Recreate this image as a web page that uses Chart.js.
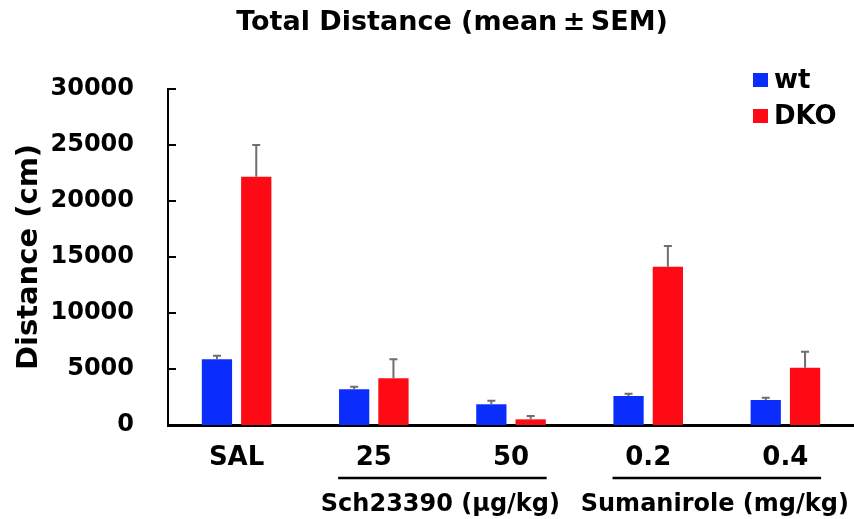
<!DOCTYPE html>
<html>
<head>
<meta charset="utf-8">
<script src="https://cdn.jsdelivr.net/npm/chart.js@4.4.0/dist/chart.umd.min.js"></script>
<style>
  html, body { margin: 0; padding: 0; background: #ffffff; }
  #wrap { width: 854px; height: 519px; position: relative; }
</style>
</head>
<body>
<div id="wrap"><canvas id="c"></canvas></div>
<script>
// ---- data ----
const categories = ['SAL', '25', '50', '0.2', '0.4'];
const seriesNames = ['wt', 'DKO'];
const wtValues = [5870, 3190, 1850, 2590, 2230];
const wtSem = [320, 230, 320, 210, 210];
const dkoValues = [22170, 4170, 505, 14130, 5120];
const dkoSem = [2830, 1700, 300, 1850, 1420];
const yTicks = [0, 5000, 10000, 15000, 20000, 25000, 30000];
const groupLabels = ['Sch23390 (μg/kg)', 'Sumanirole (mg/kg)'];
const groupSpans = [[1, 2], [3, 4]];
const chartTitle = 'Total Distance (mean\u2009±\u2009SEM)';
const yTitle = 'Distance (cm)';

const FONT = '"DejaVu Sans", "Liberation Sans", sans-serif';
const BLUE = '#0b2dfb';
const RED = '#fe0a14';

const semBySeries = [wtSem, dkoSem];

const errorBars = {
  id: 'errorBars',
  afterDatasetsDraw(chart) {
    const ctx = chart.ctx;
    const y = chart.scales.y;
    ctx.save();
    ctx.strokeStyle = '#6e6e6e';
    ctx.lineWidth = 2;
    chart.data.datasets.forEach((ds, i) => {
      const meta = chart.getDatasetMeta(i);
      meta.data.forEach((bar, j) => {
        const v = ds.data[j];
        const top = y.getPixelForValue(v + semBySeries[i][j]);
        ctx.beginPath();
        ctx.moveTo(bar.x, bar.y);
        ctx.lineTo(bar.x, top);
        ctx.moveTo(bar.x - 4, top);
        ctx.lineTo(bar.x + 4, top);
        ctx.stroke();
      });
    });
    ctx.restore();
  }
};

const decorations = {
  id: 'decorations',
  afterDraw(chart) {
    const ctx = chart.ctx;
    const x = chart.scales.x;
    const y = chart.scales.y;
    const area = chart.chartArea;
    ctx.save();
    // inward y ticks
    ctx.strokeStyle = '#000';
    ctx.lineWidth = 2;
    y.ticks.forEach(t => {
      const py = Math.round(y.getPixelForValue(t.value));
      ctx.beginPath();
      ctx.moveTo(area.left, py);
      ctx.lineTo(area.left + 8, py);
      ctx.stroke();
    });
    // title
    ctx.fillStyle = '#000';
    ctx.font = 'bold 27px ' + FONT;
    ctx.textAlign = 'center';
    ctx.textBaseline = 'middle';
    ctx.fillText(chartTitle, 452, 23);
    // group underlines + labels
    const cw = x.getPixelForValue(1) - x.getPixelForValue(0);
    ctx.lineWidth = 2.5;
    groupSpans.forEach((span, k) => {
      const x0 = x.getPixelForValue(span[0]) - cw * 0.26;
      const x1 = x.getPixelForValue(span[1]) + cw * 0.26;
      ctx.beginPath();
      ctx.moveTo(x0, 478);
      ctx.lineTo(x1, 478);
      ctx.stroke();
      ctx.font = 'bold 24px ' + FONT;
      ctx.textAlign = 'center';
      ctx.fillText(groupLabels[k], (x0 + x1) / 2 - 2, 505);
    });
    // legend
    ctx.font = 'bold 26px ' + FONT;
    ctx.textAlign = 'left';
    chart.data.datasets.forEach((ds, i) => {
      const cy = 80 + i * 36;
      ctx.fillStyle = ds.backgroundColor;
      ctx.fillRect(753, cy - 7, 15, 14);
      ctx.fillStyle = '#000';
      ctx.fillText(ds.label, 774, cy + 1);
    });
    ctx.restore();
  }
};

new Chart(document.getElementById('c'), {
  type: 'bar',
  data: {
    labels: categories,
    datasets: [
      { label: seriesNames[0], data: wtValues, backgroundColor: BLUE, borderWidth: 0,
        categoryPercentage: 0.573, barPercentage: 0.77 },
      { label: seriesNames[1], data: dkoValues, backgroundColor: RED, borderWidth: 0,
        categoryPercentage: 0.573, barPercentage: 0.77 }
    ]
  },
  options: {
    responsive: true,
    maintainAspectRatio: false,
    animation: false,
    devicePixelRatio: 1,
    layout: { padding: { top: 89, right: 0, left: 0, bottom: 0 } },
    plugins: {
      legend: { display: false },
      title: { display: false },
      tooltip: { enabled: false }
    },
    scales: {
      x: {
        grid: { display: false },
        border: { display: true, color: '#000', width: 3 },
        ticks: { color: '#000', font: { family: FONT, size: 26, weight: 'bold' }, padding: 10, maxRotation: 0 },
        afterFit(s) { s.height = 94; }
      },
      y: {
        min: 0,
        max: 30000,
        afterBuildTicks(s) { s.ticks = yTicks.map(v => ({ value: v })); },
        grid: { display: false },
        border: { display: true, color: '#000', width: 2 },
        ticks: {
          color: '#000',
          font: { family: FONT, size: 24, weight: 'bold' },
          padding: 26,
          callback: v => String(v)
        },
        title: {
          display: true,
          text: yTitle,
          color: '#000',
          font: { family: FONT, size: 29, weight: 'bold' },
          padding: { top: 12, bottom: 0 }
        },
        afterFit(s) { s.width = 168; }
      }
    }
  },
  plugins: [errorBars, decorations]
});
</script>
</body>
</html>
